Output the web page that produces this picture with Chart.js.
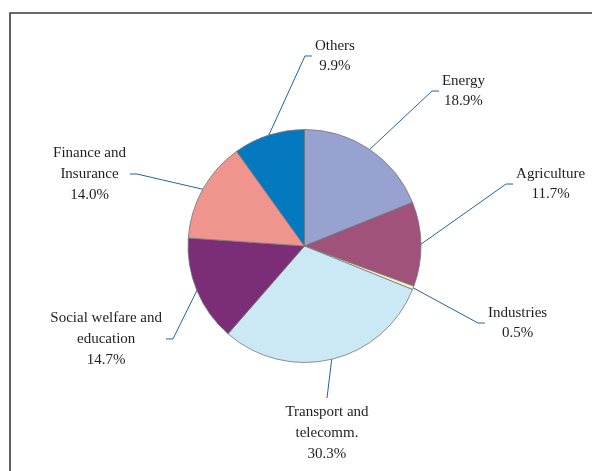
<!DOCTYPE html>
<html>
<head>
<meta charset="utf-8">
<title>Investment by sector</title>
<script src="https://cdn.jsdelivr.net/npm/chart.js@4.4.1/dist/chart.umd.min.js"></script>
<style>
  html, body { margin: 0; padding: 0; background: #ffffff; }
  #wrap { position: relative; width: 592px; height: 471px; }
</style>
</head>
<body>
<div id="wrap"><canvas id="pie" width="592" height="471"></canvas></div>
<script>
// Sector names (each entry is the list of label lines) and their shares, in percent
const categories = [
  ["Energy"],
  ["Agriculture"],
  ["Industries"],
  ["Transport and", "telecomm."],
  ["Social welfare and", "education"],
  ["Finance and", "Insurance"],
  ["Others"]
];
const shares = [18.9, 11.7, 0.5, 30.3, 14.7, 14.0, 9.9];
const sliceColors = ["#98A2D0", "#A0527A", "#F4F0C6", "#CBE9F5", "#7B2D78", "#F0948E", "#0479BF"];

// Where each label sits: elbow of the leader line, relative to the pie centre in radii
const labelLayout = [
  { dx: 1.094,  dy: -1.330, side: "right" },
  { dx: 1.730,  dy: -0.532, side: "right" },
  { dx: 1.489,  dy: 0.661,  side: "right" },
  { dx: 0.193,  dy: 1.305,  side: "below" },
  { dx: -1.129, dy: 0.798,  side: "left" },
  { dx: -1.438, dy: -0.618, side: "left" },
  { dx: 0.004,  dy: -1.631, side: "right" }
];

const FONT = "15px 'Liberation Serif', 'Times New Roman', serif";
const LINE_H = 20.8;
const TICK = 7;

// Outer frame around the figure
const framePlugin = {
  id: "frame",
  beforeDraw(chart) {
    const ctx = chart.ctx;
    ctx.save();
    ctx.strokeStyle = "#3a3a3a";
    ctx.lineWidth = 1.6;
    ctx.beginPath();
    ctx.moveTo(10, 480);
    ctx.lineTo(10, 13);
    ctx.lineTo(600, 13);
    ctx.stroke();
    ctx.restore();
  }
};

// Leader lines and two/three-line labels with the share
const leaderPlugin = {
  id: "leaders",
  afterDatasetsDraw(chart) {
    const ctx = chart.ctx;
    const meta = chart.getDatasetMeta(0);
    const values = chart.data.datasets[0].data;
    ctx.save();
    ctx.font = FONT;
    ctx.textBaseline = "middle";
    ctx.textAlign = "center";
    meta.data.forEach((arc, i) => {
      const p = arc.getProps(["x", "y", "startAngle", "endAngle", "outerRadius"], true);
      const mid = (p.startAngle + p.endAngle) / 2;
      const ax = p.x + Math.cos(mid) * p.outerRadius;
      const ay = p.y + Math.sin(mid) * p.outerRadius;
      const lay = labelLayout[i];
      const ex = p.x + lay.dx * p.outerRadius;
      const ey = p.y + lay.dy * p.outerRadius;
      const lines = categories[i].concat([values[i].toFixed(1) + "%"]);
      const maxW = Math.max(...lines.map(t => ctx.measureText(t).width));

      ctx.strokeStyle = "#24639A";
      ctx.lineWidth = 1;
      ctx.beginPath();
      ctx.moveTo(ax, ay);
      ctx.lineTo(ex, ey);
      let cx, firstY;
      if (lay.side === "right") {
        ctx.lineTo(ex + TICK, ey);
        cx = ex + TICK + 3 + maxW / 2;
        firstY = ey - (lines.length - 1) * LINE_H / 2;
      } else if (lay.side === "left") {
        ctx.lineTo(ex - TICK, ey);
        cx = ex - TICK - 4 - maxW / 2;
        firstY = ey - (lines.length - 1) * LINE_H / 2;
      } else {
        cx = ex;
        firstY = ey + 14;
      }
      ctx.stroke();

      ctx.fillStyle = "#1e1e1e";
      lines.forEach((t, k) => ctx.fillText(t, cx, firstY + k * LINE_H));
    });
    ctx.restore();
  }
};

new Chart(document.getElementById("pie"), {
  type: "pie",
  data: {
    labels: categories,
    datasets: [{
      data: shares,
      backgroundColor: sliceColors,
      borderColor: "#777777",
      borderWidth: 0.8
    }]
  },
  options: {
    responsive: false,
    animation: false,
    radius: 116.5,
    layout: { padding: { left: 100, right: 83, top: 129.5, bottom: 108.5 } },
    plugins: {
      legend: { display: false },
      tooltip: { enabled: false }
    }
  },
  plugins: [framePlugin, leaderPlugin]
});
</script>
</body>
</html>
